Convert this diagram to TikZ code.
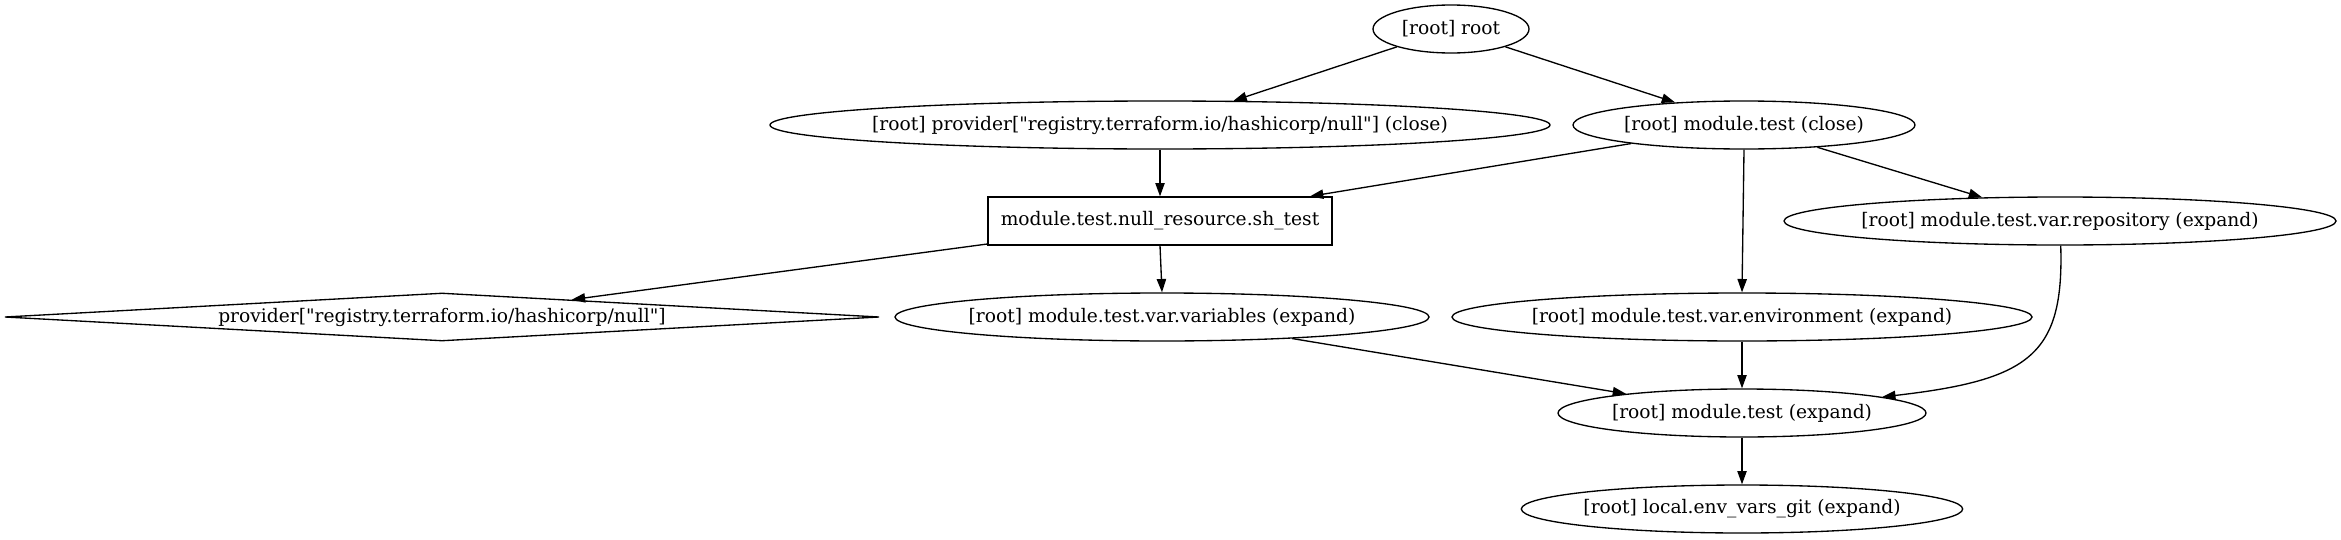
\documentclass[tikz,border=0pt]{standalone}
\usepackage{fontspec}
\setmainfont{DejaVu Serif}[Ligatures=TeXOff]
\usetikzlibrary{shapes.geometric,arrows.meta}
\newcommand{\gvlbl}[1]{\makebox[0pt]{#1}}
\begin{document}
\begin{tikzpicture}[x=0.75pt,y=-0.75pt,
  gvnode/.style={draw, line width=1pt, inner sep=0pt, minimum height=36pt, font=\fontsize{14pt}{16pt}\selectfont},
  gvell/.style={gvnode, ellipse},
  gvbox/.style={gvnode, rectangle},
  gvdia/.style={gvnode, diamond},
  gvedge/.style={draw, line width=1pt, -{Triangle[length=10pt,width=7pt]}}]
\fill[white] (0,0) rectangle (2341,539);
\useasboundingbox (0,0) rectangle (2341,539);

\node[gvell, minimum width=117pt] (root) at (1451,29) {\gvlbl{[root] root}};
\node[gvell, minimum width=585pt] (pc) at (1160,125) {\gvlbl{[root] provider["registry.terraform.io/hashicorp/null"] (close)}};
\node[gvell, minimum width=256.5pt] (mc) at (1744,125) {\gvlbl{[root] module.test (close)}};
\node[gvbox, minimum width=258pt] (nr) at (1160,221) {\gvlbl{module.test.null\_resource.sh\_test}};
\node[gvell, minimum width=414pt] (rep) at (2060,221) {\gvlbl{[root] module.test.var.repository (expand)}};
\node[gvdia, minimum width=656pt] (dia) at (442,317) {\gvlbl{provider["registry.terraform.io/hashicorp/null"]}};
\node[gvell, minimum width=400.5pt] (var) at (1162,317) {\gvlbl{[root] module.test.var.variables (expand)}};
\node[gvell, minimum width=435pt] (env) at (1742,317) {\gvlbl{[root] module.test.var.environment (expand)}};
\node[gvell, minimum width=276pt] (mexp) at (1742,413) {\gvlbl{[root] module.test (expand)}};
\node[gvell, minimum width=331pt] (loc) at (1742,509) {\gvlbl{[root] local.env\_vars\_git (expand)}};

\draw[gvedge] (root) -- (pc);
\draw[gvedge] (root) -- (mc);
\draw[gvedge] (pc) -- (nr);
\draw[gvedge] (mc) -- (nr);
\draw[gvedge] (mc.south) -- (env.north);
\draw[gvedge] (mc) -- (rep);
\draw[gvedge] (nr) -- (dia);
\draw[gvedge] (nr.south) -- (var.north);
\draw[gvedge] (var) -- (mexp);
\draw[gvedge] (env) -- (mexp);
\draw[gvedge] (rep) .. controls (2064,355) and (2030,380) .. (mexp);
\draw[gvedge] (mexp) -- (loc);
\end{tikzpicture}
\end{document}
